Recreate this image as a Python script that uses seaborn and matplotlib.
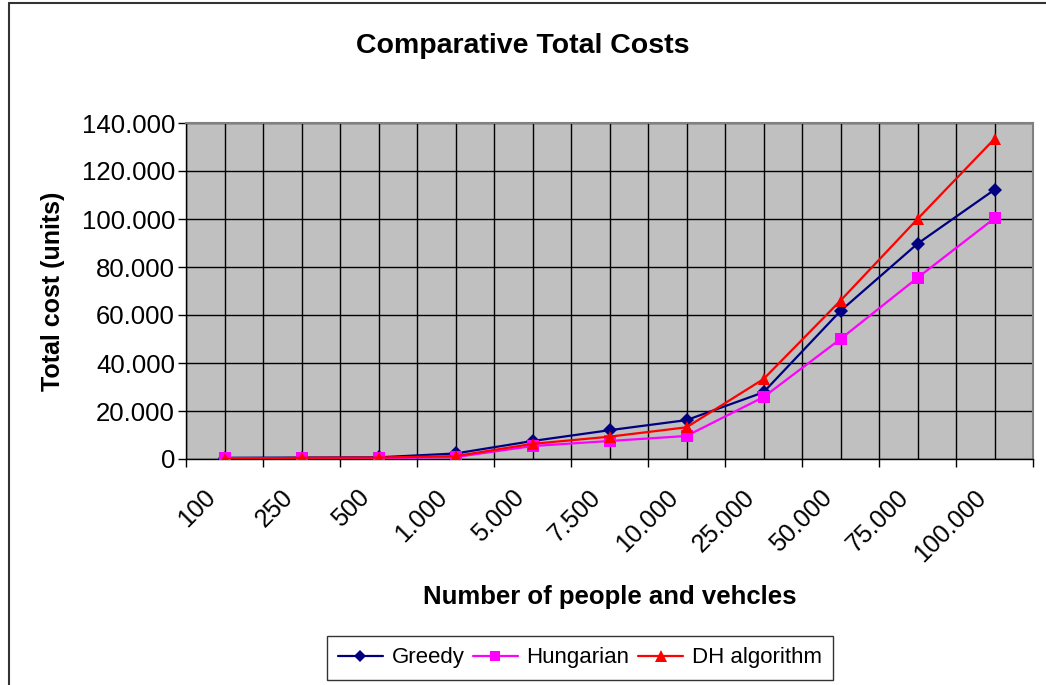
import numpy as np
import pandas as pd
import seaborn as sns
import matplotlib.pyplot as plt
from matplotlib.lines import Line2D
from matplotlib.ticker import FixedLocator, FuncFormatter
from matplotlib.transforms import ScaledTranslation

categories = ["100", "250", "500", "1.000", "5.000", "7.500", "10.000",
              "25.000", "50.000", "75.000", "100.000"]
greedy = [500, 600, 700, 2300, 7500, 12000, 16200, 27800, 61700, 89700, 112200]
hungarian = [300, 300, 400, 800, 5400, 7500, 9600, 25800, 50000, 75500, 100300]
dh_algorithm = [0, 500, 600, 1200, 6300, 9300, 13200, 33300, 66000, 100000, 133400]
series_names = ["Greedy", "Hungarian", "DH algorithm"]

sns.set_style("white")
plt.rcParams["font.family"] = ["Liberation Sans", "DejaVu Sans"]
plt.rcParams["text.color"] = "black"
plt.rcParams["axes.labelcolor"] = "black"

df = pd.DataFrame({
    "pos": np.tile(np.arange(len(categories)), 3),
    "cost": greedy + hungarian + dh_algorithm,
    "algo": np.repeat(series_names, len(categories)),
})

palette = {"Greedy": "#000080", "Hungarian": "#FF00FF", "DH algorithm": "#FF0000"}
markers = {"Greedy": "D", "Hungarian": "s", "DH algorithm": "^"}
msizes = {"Greedy": 7, "Hungarian": 8, "DH algorithm": 9}

fig = plt.figure(figsize=(10.46, 6.85), dpi=100)
ax = fig.add_axes([186 / 1046, 1 - 459 / 685, (1033 - 186) / 1046, (459 - 123) / 685])
ax.set_facecolor("#C0C0C0")

for name in series_names:
    sub = df[df.algo == name]
    sns.lineplot(data=sub, x="pos", y="cost", color=palette[name], marker=markers[name],
                 markersize=msizes[name], markeredgewidth=0, lw=1.6, ax=ax,
                 legend=False, zorder=5)

ax.set_xlim(-0.5, len(categories) - 0.5)
ax.set_ylim(0, 140000)
ax.set_yticks(range(0, 140001, 20000))
ax.yaxis.set_major_formatter(FuncFormatter(lambda v, p: f"{int(v):,}".replace(",", ".")))

ax.xaxis.set_major_locator(FixedLocator(np.arange(len(categories))))
ax.xaxis.set_minor_locator(FixedLocator(np.arange(len(categories) + 1) - 0.5))
ax.set_xticklabels(categories, rotation=45, ha="right", rotation_mode="anchor")
ax.tick_params(axis="x", which="major", length=0, pad=16, labelsize=18, colors="black")
ax.tick_params(axis="x", which="minor", length=6, width=1, direction="out", bottom=True, color="black")
ax.tick_params(axis="y", which="major", length=6, width=1, direction="out", left=True,
               labelsize=18.5, colors="black", pad=2)
# nudge the rotated labels left, like Excel places them
shift = ScaledTranslation(-15 / 72, -3 / 72, fig.dpi_scale_trans)
for lab in ax.get_xticklabels():
    lab.set_transform(lab.get_transform() + shift)

ax.grid(True, which="both", axis="x", color="black", lw=1)
ax.grid(True, which="major", axis="y", color="black", lw=1)
ax.set_axisbelow(True)

for side in ["left", "bottom"]:
    ax.spines[side].set_color("black")
    ax.spines[side].set_linewidth(1)
for side in ["top", "right"]:
    ax.spines[side].set_color("#808080")
    ax.spines[side].set_linewidth(1.5)

ax.set_xlabel("Number of people and vehcles", fontsize=18.5, fontweight="bold", labelpad=13)
ax.set_ylabel("Total cost (units)", fontsize=18, fontweight="bold", labelpad=12)
fig.text(0.5, 1 - 46 / 685, "Comparative Total Costs", ha="center", va="center",
         fontsize=20.5, fontweight="bold")

handles = [Line2D([0], [0], color=palette[n], marker=markers[n], markersize=msizes[n] - 1,
                  markeredgewidth=0, lw=1.6) for n in series_names]
leg = fig.legend(handles, series_names, loc="center", bbox_to_anchor=(580 / 1046, 1 - 658 / 685),
                 ncol=3, frameon=True, fancybox=False, fontsize=16, handlelength=2.0,
                 columnspacing=0.4, handletextpad=0.4, borderpad=0.5)
leg.get_frame().set_edgecolor("black")
leg.get_frame().set_linewidth(1)

fig.add_artist(Line2D([9 / 1046, 9 / 1046], [0, 1 - 3 / 685], color="#333333", lw=1.5))
fig.add_artist(Line2D([9 / 1046, 1], [1 - 3 / 685, 1 - 3 / 685], color="#333333", lw=1.5))

fig.savefig("out.png", dpi=100)
